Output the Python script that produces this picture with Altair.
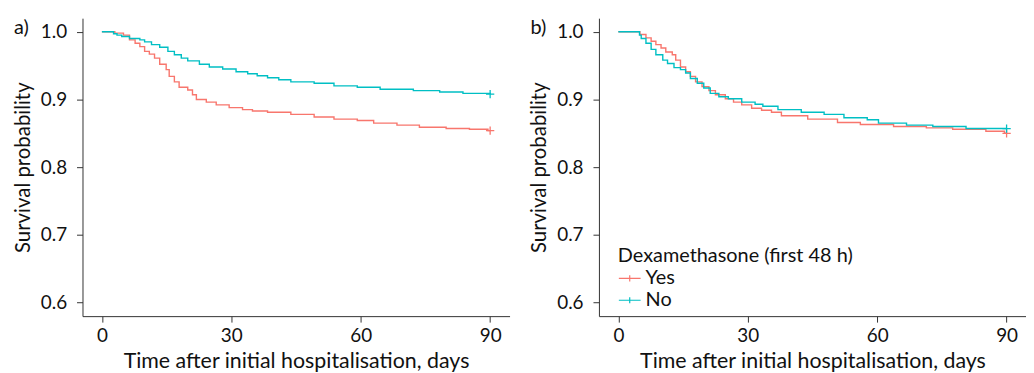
import altair as alt
import pandas as pd

# ---- data (Kaplan-Meier steps) ----
groups = ["Yes", "No"]
colors = ["#F8766D", "#00BFC4"]

# panel a
t_a_yes = [0, 3, 5, 6.4, 7.7, 8.8, 9.9, 11, 12.2, 13.4, 14.9, 15.6, 16.8, 17.9, 19.9, 21, 21.9, 24.2, 26.5, 29.5, 32.6, 34.9, 38.4, 43.8, 49.2, 53.8, 59.2, 63, 68.4, 73.6, 79.8, 85.2, 89.5, 90]
s_a_yes = [1.0, 0.998, 0.995, 0.988, 0.983, 0.978, 0.971, 0.967, 0.961, 0.952, 0.944, 0.934, 0.926, 0.918, 0.914, 0.907, 0.900, 0.896, 0.892, 0.888, 0.885, 0.883, 0.881, 0.878, 0.874, 0.871, 0.869, 0.865, 0.862, 0.859, 0.857, 0.856, 0.854, 0.854]
t_a_no = [0, 2.7, 3.5, 4.6, 6.4, 8.8, 9.9, 11.5, 13.4, 15.3, 16.8, 18.4, 19.9, 22.6, 24.9, 28, 31.1, 33.8, 36, 38.4, 41, 43.8, 49.2, 53.8, 59.2, 64.5, 72.2, 78.3, 83.7, 90]
s_a_no = [1.0, 0.997, 0.995, 0.993, 0.990, 0.988, 0.985, 0.981, 0.977, 0.971, 0.966, 0.961, 0.957, 0.952, 0.948, 0.945, 0.941, 0.938, 0.935, 0.932, 0.929, 0.926, 0.924, 0.920, 0.918, 0.915, 0.913, 0.911, 0.909, 0.908]

# panel b
t_b_yes = [0, 5, 6.4, 7.6, 8.7, 9.9, 11, 12.5, 13.3, 14.4, 15.6, 16.7, 17.9, 19.4, 21, 22.5, 24.8, 26.7, 28.6, 30.9, 33.2, 35.5, 37.8, 43.9, 50.8, 56.1, 63.8, 71.4, 77.5, 85.2, 89.5, 90]
s_b_yes = [1.0, 0.996, 0.991, 0.986, 0.981, 0.976, 0.970, 0.966, 0.958, 0.948, 0.941, 0.934, 0.926, 0.919, 0.913, 0.907, 0.901, 0.896, 0.892, 0.887, 0.884, 0.881, 0.876, 0.871, 0.866, 0.863, 0.860, 0.858, 0.856, 0.853, 0.850, 0.850]
t_b_no = [0, 4.9, 5.3, 6.4, 7.6, 8.7, 10.3, 11.4, 12.9, 14.4, 15.6, 16.7, 18.3, 19.8, 21.3, 23.3, 25.5, 28.6, 31.7, 33.5, 37, 42.4, 47.7, 52.3, 57.7, 60.3, 66.8, 72.9, 80.6, 90]
s_b_no = [1.0, 0.995, 0.990, 0.983, 0.974, 0.966, 0.958, 0.953, 0.947, 0.944, 0.939, 0.931, 0.924, 0.917, 0.909, 0.904, 0.901, 0.896, 0.893, 0.890, 0.885, 0.881, 0.878, 0.873, 0.870, 0.865, 0.862, 0.860, 0.857, 0.857]

x_ticks = [0, 30, 60, 90]
y_ticks = [0.6, 0.7, 0.8, 0.9, 1.0]
panel_labels = ["a)", "b)"]

FONT = "Lato"
INK = "#111111"


def curves(ty, sy, tn, sn):
    df = pd.concat([
        pd.DataFrame({"t": ty, "s": sy, "g": "Yes"}),
        pd.DataFrame({"t": tn, "s": sn, "g": "No"}),
    ], ignore_index=True)
    ends = df.groupby("g", sort=False).tail(1).reset_index(drop=True)
    return df, ends


def panel(ty, sy, tn, sn, label, show_legend):
    df, ends = curves(ty, sy, tn, sn)
    xs = alt.Scale(domain=[-4.5, 94.5], nice=False, zero=False)
    ys = alt.Scale(domain=[0.58, 1.02], nice=False, zero=False)
    cs = alt.Scale(domain=groups, range=colors)
    xax = alt.Axis(values=x_ticks, title="Time after initial hospitalisation, days",
                   labelPadding=5, titleFontSize=21.5, titlePadding=5)
    yax = alt.Axis(values=y_ticks, format=".1f", title="Survival probability",
                   labelPadding=10, titleFontSize=20.5, titlePadding=7)
    if show_legend:
        leg = alt.Legend(
            title="Dexamethasone (first 48 h)", orient="none", legendX=19, legendY=229,
            symbolType="M-1,0L1,0M0,-0.28L0,0.28", symbolSize=480, symbolStrokeWidth=1.2,
            titleFontSize=20, labelFontSize=20, titleFontWeight="normal",
            titleColor=INK, labelColor=INK, titleFont=FONT, labelFont=FONT,
            labelOffset=4, rowPadding=0, titlePadding=1, titleLimit=0, labelLimit=0,
        )
    else:
        leg = None
    line = alt.Chart(df).mark_line(interpolate="step-after", strokeWidth=1.4).encode(
        x=alt.X("t:Q", scale=xs, axis=xax),
        y=alt.Y("s:Q", scale=ys, axis=yax),
        color=alt.Color("g:N", scale=cs, legend=leg),
    )
    cens = alt.Chart(ends).mark_point(
        shape="M-1,0L1,0M0,-1L0,1", size=70, filled=False, strokeWidth=1.3, opacity=1
    ).encode(
        x=alt.X("t:Q", scale=xs),
        y=alt.Y("s:Q", scale=ys),
        color=alt.Color("g:N", scale=cs, legend=None),
    )
    tag = alt.Chart(pd.DataFrame({"lab": [label]})).mark_text(
        align="left", baseline="top", font=FONT, fontSize=20, color=INK
    ).encode(x=alt.value(-69), y=alt.value(0), text="lab:N")
    return alt.layer(line, cens, tag).properties(width=430, height=300)


pa = panel(t_a_yes, s_a_yes, t_a_no, s_a_no, panel_labels[0], False)
pb = panel(t_b_yes, s_b_yes, t_b_no, s_b_no, panel_labels[1], True)

chart = alt.hconcat(pa, pb, spacing=20).resolve_scale(color="independent").resolve_legend(
    color="independent"
).properties(
    padding={"left": 5, "top": 9, "right": 0, "bottom": 0}
).configure_view(stroke=None).configure_axis(
    grid=False, domainColor="#333", tickColor="#333", domainWidth=1, tickWidth=1,
    tickSize=6, labelFont=FONT, titleFont=FONT, labelFontSize=19,
    labelColor=INK, titleColor=INK, titleFontWeight="normal",
)

chart.save("out.html", embed_options={"renderer": "svg", "actions": False})
